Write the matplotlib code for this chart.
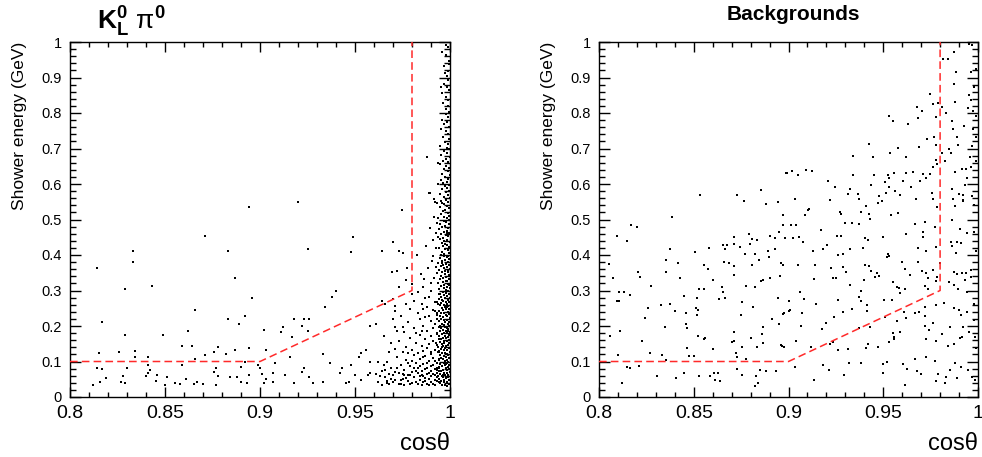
import numpy as np
import matplotlib
matplotlib.use("Agg")
import matplotlib.pyplot as plt
from matplotlib.ticker import MultipleLocator, FuncFormatter

plt.rcParams["font.family"] = "Liberation Sans"
plt.rcParams["mathtext.fontset"] = "custom"
plt.rcParams["mathtext.rm"] = "Liberation Sans"
plt.rcParams["mathtext.it"] = "Liberation Sans"
plt.rcParams["mathtext.bf"] = "Liberation Sans:bold"
plt.rcParams["lines.scale_dashes"] = False

# selection cut drawn on both panels
cut_x = [0.8, 0.9, 0.98, 0.98]
cut_y = [0.1, 0.1, 0.3, 1.0]

x_ticks = [0.8, 0.85, 0.9, 0.95, 1.0]
y_ticks = [0, 0.1, 0.2, 0.3, 0.4, 0.5, 0.6, 0.7, 0.8, 0.9, 1.0]

# ---- K_L pi0 signal: (cos theta, shower energy)
sig_sparse = [
    (0.894, 0.535), (0.871, 0.454), (0.833, 0.411), (0.883, 0.411), (0.833, 0.380),
    (0.814, 0.363), (0.887, 0.335), (0.829, 0.305), (0.843, 0.313), (0.896, 0.280),
    (0.866, 0.246), (0.817, 0.211), (0.883, 0.220), (0.892, 0.228), (0.889, 0.206),
    (0.829, 0.175), (0.849, 0.175), (0.862, 0.186), (0.902, 0.189), (0.859, 0.145),
    (0.864, 0.145), (0.878, 0.141), (0.834, 0.130), (0.815, 0.124), (0.826, 0.127),
    (0.834, 0.114), (0.841, 0.112), (0.876, 0.128), (0.871, 0.118), (0.882, 0.120),
    (0.887, 0.132), (0.894, 0.138), (0.903, 0.131), (0.866, 0.108), (0.814, 0.083),
    (0.817, 0.078), (0.830, 0.082), (0.828, 0.060), (0.829, 0.040), (0.827, 0.043),
    (0.819, 0.053), (0.816, 0.043), (0.812, 0.034), (0.840, 0.060), (0.842, 0.076),
    (0.841, 0.068), (0.841, 0.090), (0.846, 0.063), (0.845, 0.045), (0.851, 0.055),
    (0.850, 0.034), (0.855, 0.039), (0.858, 0.036), (0.859, 0.089), (0.861, 0.050),
    (0.865, 0.038), (0.867, 0.042), (0.870, 0.038), (0.876, 0.070), (0.877, 0.083),
    (0.878, 0.060), (0.877, 0.034), (0.884, 0.057), (0.890, 0.085), (0.890, 0.043),
    (0.888, 0.055), (0.893, 0.040), (0.892, 0.099), (0.899, 0.090), (0.900, 0.081),
    (0.901, 0.065), (0.903, 0.050), (0.902, 0.040), (0.894, 0.062),
    (0.920, 0.548), (0.949, 0.450), (0.925, 0.417), (0.948, 0.409), (0.964, 0.412),
    (0.970, 0.438), (0.973, 0.412), (0.975, 0.405), (0.972, 0.356), (0.977, 0.330),
    (0.973, 0.309), (0.940, 0.300), (0.938, 0.281), (0.934, 0.253), (0.970, 0.276),
    (0.964, 0.271), (0.966, 0.262), (0.971, 0.257), (0.971, 0.243), (0.923, 0.220),
    (0.926, 0.220), (0.918, 0.220), (0.925, 0.187), (0.922, 0.201), (0.912, 0.196),
    (0.911, 0.182), (0.917, 0.168), (0.970, 0.220), (0.971, 0.198), (0.965, 0.173),
    (0.958, 0.201), (0.961, 0.206), (0.933, 0.121), (0.916, 0.114), (0.908, 0.095),
    (0.937, 0.095), (0.948, 0.090), (0.953, 0.123), (0.952, 0.114), (0.956, 0.132),
    (0.958, 0.100), (0.958, 0.067), (0.957, 0.062), (0.962, 0.100), (0.966, 0.076),
    (0.967, 0.039), (0.953, 0.048), (0.945, 0.039), (0.947, 0.043), (0.933, 0.043),
    (0.928, 0.039), (0.926, 0.057), (0.923, 0.081), (0.922, 0.071), (0.918, 0.039),
    (0.913, 0.062), (0.907, 0.067), (0.907, 0.043), (0.942, 0.067), (0.943, 0.081),
    (0.950, 0.062),
]

sig_mid = [
    (0.9693, 0.351), (0.9772, 0.362), (0.9825, 0.400), (0.9895, 0.475), (0.9877, 0.675),
    (0.9749, 0.527), (0.9939, 0.600), (0.9891, 0.576), (0.9918, 0.557), (0.9930, 0.547),
    (0.9916, 0.508), (0.9939, 0.503), (0.9861, 0.331), (0.9884, 0.362), (0.9905, 0.384),
    (0.9872, 0.425), (0.9912, 0.441), (0.9926, 0.462), (0.9857, 0.309), (0.9901, 0.322),
    (0.9845, 0.347), (0.9931, 0.489), (0.9908, 0.397), (0.9802, 0.318), (0.9939, 0.658),
    (0.9895, 0.574), (0.9921, 0.550),
]

sig_cloud = [
    (0.962, 0.041), (0.964, 0.072), (0.966, 0.055), (0.967, 0.098), (0.968, 0.036),
    (0.969, 0.083), (0.970, 0.062), (0.971, 0.047), (0.972, 0.112), (0.973, 0.069),
    (0.973, 0.038), (0.974, 0.091), (0.975, 0.052), (0.976, 0.077), (0.976, 0.034),
    (0.977, 0.105), (0.978, 0.061), (0.978, 0.045), (0.979, 0.088), (0.980, 0.071),
    (0.980, 0.039), (0.981, 0.118), (0.981, 0.056), (0.982, 0.095), (0.982, 0.042),
    (0.983, 0.067), (0.983, 0.081), (0.984, 0.049), (0.984, 0.108), (0.985, 0.035),
    (0.985, 0.074), (0.986, 0.059), (0.986, 0.092), (0.987, 0.044), (0.987, 0.115),
    (0.988, 0.066), (0.988, 0.083), (0.988, 0.037), (0.989, 0.051), (0.989, 0.101),
    (0.990, 0.073), (0.990, 0.058), (0.990, 0.041), (0.991, 0.089), (0.991, 0.064),
    (0.991, 0.111), (0.992, 0.047), (0.992, 0.078), (0.992, 0.034), (0.993, 0.096),
    (0.993, 0.057), (0.993, 0.069), (0.994, 0.043), (0.994, 0.085), (0.994, 0.107),
    (0.963, 0.058), (0.965, 0.089), (0.968, 0.065), (0.970, 0.041), (0.972, 0.081),
    (0.974, 0.047), (0.975, 0.066), (0.977, 0.053), (0.979, 0.037), (0.980, 0.102),
    (0.982, 0.074), (0.983, 0.036), (0.984, 0.087), (0.985, 0.061), (0.986, 0.043),
    (0.987, 0.079), (0.988, 0.097), (0.989, 0.034), (0.989, 0.069), (0.990, 0.121),
    (0.991, 0.038), (0.992, 0.101), (0.993, 0.045), (0.993, 0.082), (0.986, 0.112),
    (0.981, 0.082), (0.978, 0.095), (0.976, 0.061), (0.971, 0.071), (0.967, 0.046),
    (0.964, 0.033), (0.969, 0.052), (0.974, 0.036), (0.979, 0.063), (0.984, 0.058),
    (0.987, 0.054), (0.990, 0.088), (0.992, 0.061), (0.994, 0.072), (0.961, 0.066),
    (0.971, 0.135), (0.973, 0.158), (0.975, 0.127), (0.976, 0.182), (0.977, 0.141),
    (0.978, 0.211), (0.979, 0.166), (0.980, 0.131), (0.981, 0.195), (0.982, 0.152),
    (0.983, 0.238), (0.983, 0.124), (0.984, 0.176), (0.985, 0.143), (0.985, 0.262),
    (0.986, 0.201), (0.986, 0.129), (0.987, 0.163), (0.987, 0.225), (0.988, 0.138),
    (0.988, 0.187), (0.989, 0.281), (0.989, 0.149), (0.990, 0.214), (0.990, 0.171),
    (0.990, 0.126), (0.991, 0.245), (0.991, 0.157), (0.991, 0.193), (0.992, 0.133),
    (0.992, 0.268), (0.992, 0.206), (0.993, 0.179), (0.993, 0.146), (0.993, 0.231),
    (0.994, 0.162), (0.994, 0.291), (0.994, 0.198), (0.994, 0.127), (0.982, 0.179),
    (0.984, 0.221), (0.986, 0.247), (0.988, 0.253), (0.989, 0.229), (0.981, 0.271),
    (0.979, 0.248), (0.975, 0.198), (0.972, 0.186), (0.969, 0.151), (0.968, 0.128),
    (0.974, 0.229), (0.977, 0.263), (0.980, 0.291), (0.983, 0.296), (0.987, 0.278),
    (0.990, 0.298), (0.992, 0.242), (0.993, 0.267), (0.985, 0.186), (0.978, 0.123),
]

sig_edge = [
    (0.9990, 0.985), (0.9980, 0.962), (0.9995, 0.947), (0.9970, 0.931), (0.9990, 0.918),
    (0.9985, 0.905), (0.9960, 0.972), (0.9993, 0.938), (0.9980, 0.991), (0.9975, 0.912),
    (0.9990, 0.893), (0.9970, 0.881), (0.9985, 0.872), (0.9995, 0.866), (0.9960, 0.857),
    (0.9980, 0.846), (0.9990, 0.838), (0.9965, 0.829), (0.9988, 0.821), (0.9978, 0.812),
    (0.9996, 0.804), (0.9950, 0.874), (0.9980, 0.797), (0.9992, 0.788), (0.9960, 0.781),
    (0.9985, 0.776), (0.9970, 0.768), (0.9995, 0.761), (0.9955, 0.754), (0.9980, 0.749),
    (0.9988, 0.741), (0.9962, 0.733), (0.9997, 0.727), (0.9975, 0.719), (0.9990, 0.712),
    (0.9945, 0.707), (0.9982, 0.702), (0.9993, 0.698), (0.9970, 0.693), (0.9985, 0.688),
    (0.9955, 0.681), (0.9998, 0.677), (0.9980, 0.671), (0.9965, 0.666), (0.9990, 0.661),
    (0.9948, 0.655), (0.9978, 0.651), (0.9995, 0.646), (0.9968, 0.641), (0.9987, 0.636),
    (0.9958, 0.629), (0.9999, 0.624), (0.9975, 0.619), (0.9991, 0.614), (0.9952, 0.611),
    (0.9983, 0.606), (0.9963, 0.602), (0.9996, 0.598), (0.9972, 0.594), (0.9986, 0.589),
    (0.9958, 0.585), (0.9993, 0.581), (0.9977, 0.577), (0.9949, 0.572), (0.9989, 0.569),
    (0.9966, 0.564), (0.9998, 0.561), (0.9980, 0.556), (0.9955, 0.552), (0.9991, 0.548),
    (0.9970, 0.544), (0.9984, 0.539), (0.9945, 0.535), (0.9997, 0.532), (0.9975, 0.528),
    (0.9961, 0.523), (0.9988, 0.519), (0.9952, 0.515), (0.9994, 0.511), (0.9969, 0.507),
    (0.9982, 0.503), (0.9957, 0.546), (0.9993, 0.498), (0.9968, 0.495), (0.9981, 0.492),
    (0.9948, 0.488), (0.9997, 0.486), (0.9975, 0.482), (0.9959, 0.479), (0.9989, 0.476),
    (0.9942, 0.473), (0.9984, 0.469), (0.9966, 0.466), (0.9995, 0.463), (0.9954, 0.459),
    (0.9978, 0.456), (0.9991, 0.453), (0.9963, 0.449), (0.9947, 0.446), (0.9986, 0.443),
    (0.9971, 0.439), (0.9998, 0.436), (0.9956, 0.433), (0.9982, 0.429), (0.9964, 0.426),
    (0.9993, 0.423), (0.9944, 0.419), (0.9976, 0.416), (0.9988, 0.413), (0.9958, 0.409),
    (0.9996, 0.406), (0.9969, 0.403), (0.9951, 0.401), (0.9985, 0.461), (0.9973, 0.431),
    (0.9939, 0.452), (0.9928, 0.421), (0.9991, 0.398), (0.9967, 0.396), (0.9982, 0.393),
    (0.9945, 0.391), (0.9996, 0.388), (0.9974, 0.386), (0.9957, 0.383), (0.9988, 0.381),
    (0.9938, 0.378), (0.9979, 0.376), (0.9962, 0.373), (0.9994, 0.371), (0.9951, 0.368),
    (0.9985, 0.366), (0.9969, 0.363), (0.9998, 0.361), (0.9942, 0.358), (0.9976, 0.356),
    (0.9959, 0.353), (0.9989, 0.351), (0.9932, 0.348), (0.9972, 0.346), (0.9993, 0.343),
    (0.9955, 0.341), (0.9981, 0.338), (0.9964, 0.336), (0.9997, 0.333), (0.9947, 0.331),
    (0.9978, 0.328), (0.9986, 0.326), (0.9961, 0.323), (0.9935, 0.321), (0.9992, 0.318),
    (0.9971, 0.316), (0.9953, 0.313), (0.9983, 0.311), (0.9966, 0.308), (0.9999, 0.306),
    (0.9944, 0.303), (0.9977, 0.301), (0.9925, 0.365), (0.9918, 0.334), (0.9987, 0.357),
    (0.9958, 0.377), (0.9995, 0.315), (0.9992, 0.298), (0.9961, 0.296), (0.9978, 0.293),
    (0.9947, 0.291), (0.9995, 0.289), (0.9968, 0.287), (0.9984, 0.284), (0.9953, 0.282),
    (0.9999, 0.280), (0.9973, 0.278), (0.9941, 0.276), (0.9988, 0.273), (0.9962, 0.271),
    (0.9979, 0.269), (0.9996, 0.267), (0.9951, 0.265), (0.9983, 0.262), (0.9967, 0.260),
    (0.9945, 0.258), (0.9991, 0.256), (0.9974, 0.254), (0.9958, 0.251), (0.9997, 0.249),
    (0.9981, 0.247), (0.9963, 0.245), (0.9943, 0.243), (0.9989, 0.240), (0.9971, 0.238),
    (0.9955, 0.236), (0.9994, 0.234), (0.9977, 0.232), (0.9948, 0.229), (0.9986, 0.227),
    (0.9965, 0.225), (0.9998, 0.223), (0.9952, 0.221), (0.9982, 0.218), (0.9969, 0.216),
    (0.9944, 0.214), (0.9993, 0.212), (0.9976, 0.210), (0.9959, 0.207), (0.9987, 0.205),
    (0.9966, 0.203), (0.9949, 0.201), (0.9985, 0.253), (0.9957, 0.274), (0.9939, 0.263),
    (0.9929, 0.238), (0.9933, 0.219), (0.9996, 0.199), (0.9972, 0.197), (0.9985, 0.195),
    (0.9954, 0.193), (0.9991, 0.191), (0.9964, 0.189), (0.9978, 0.187), (0.9946, 0.185),
    (0.9998, 0.183), (0.9969, 0.181), (0.9983, 0.179), (0.9957, 0.177), (0.9993, 0.175),
    (0.9974, 0.173), (0.9942, 0.171), (0.9987, 0.169), (0.9961, 0.167), (0.9979, 0.165),
    (0.9951, 0.163), (0.9995, 0.161), (0.9967, 0.159), (0.9984, 0.157), (0.9945, 0.155),
    (0.9997, 0.153), (0.9971, 0.151), (0.9956, 0.149), (0.9989, 0.147), (0.9963, 0.145),
    (0.9981, 0.143), (0.9938, 0.141), (0.9994, 0.139), (0.9976, 0.137), (0.9952, 0.135),
    (0.9986, 0.133), (0.9966, 0.131), (0.9943, 0.129), (0.9999, 0.127), (0.9973, 0.125),
    (0.9958, 0.123), (0.9982, 0.121), (0.9947, 0.119), (0.9992, 0.117), (0.9968, 0.115),
    (0.9979, 0.113), (0.9953, 0.111), (0.9996, 0.109), (0.9961, 0.107), (0.9985, 0.105),
    (0.9944, 0.103), (0.9975, 0.101), (0.9931, 0.178), (0.9927, 0.152), (0.9935, 0.126),
    (0.9988, 0.186), (0.9959, 0.142), (0.9991, 0.099), (0.9966, 0.097), (0.9982, 0.095),
    (0.9949, 0.093), (0.9997, 0.091), (0.9972, 0.089), (0.9958, 0.087), (0.9987, 0.085),
    (0.9943, 0.083), (0.9978, 0.081), (0.9994, 0.079), (0.9962, 0.077), (0.9983, 0.075),
    (0.9951, 0.073), (0.9998, 0.071), (0.9969, 0.069), (0.9985, 0.067), (0.9946, 0.065),
    (0.9992, 0.063), (0.9974, 0.061), (0.9957, 0.059), (0.9989, 0.057), (0.9964, 0.055),
    (0.9981, 0.053), (0.9941, 0.051), (0.9996, 0.049), (0.9971, 0.047), (0.9954, 0.045),
    (0.9986, 0.043), (0.9967, 0.041), (0.9948, 0.039), (0.9993, 0.037), (0.9976, 0.035),
    (0.9959, 0.033), (0.9984, 0.031), (0.9937, 0.058), (0.9929, 0.076), (0.9933, 0.044),
    (0.9979, 0.092), (0.9961, 0.063),
]

# ---- backgrounds: right panel
bkg_left = [
    (0.8765, 0.552), (0.8882, 0.544), (0.8946, 0.549), (0.8970, 0.514), (0.8970, 0.484),
    (0.8386, 0.506), (0.8167, 0.485), (0.8202, 0.480), (0.8093, 0.454), (0.8149, 0.439),
    (0.8710, 0.450), (0.8791, 0.458), (0.8809, 0.444), (0.8833, 0.442), (0.8902, 0.454),
    (0.8949, 0.465), (0.8928, 0.448), (0.8675, 0.429), (0.8654, 0.427), (0.8710, 0.431),
    (0.8746, 0.423), (0.8798, 0.431), (0.8377, 0.418), (0.8507, 0.408), (0.8579, 0.421),
    (0.8667, 0.417), (0.8768, 0.403), (0.8825, 0.403), (0.8893, 0.412), (0.8928, 0.418),
    (0.8895, 0.394), (0.8842, 0.386), (0.8970, 0.371), (0.8053, 0.376), (0.8351, 0.385),
    (0.8418, 0.377), (0.8660, 0.380), (0.8686, 0.377), (0.8554, 0.373), (0.8574, 0.361),
    (0.8714, 0.370), (0.8807, 0.372), (0.8207, 0.351), (0.8354, 0.352), (0.8218, 0.339),
    (0.8072, 0.335), (0.8430, 0.336), (0.8603, 0.330), (0.8714, 0.343), (0.8868, 0.330),
    (0.8853, 0.327), (0.8903, 0.335), (0.8954, 0.341), (0.8777, 0.314), (0.8821, 0.309),
    (0.8277, 0.313), (0.8530, 0.303), (0.8554, 0.305), (0.8651, 0.309), (0.8654, 0.296),
    (0.8130, 0.295), (0.8107, 0.295), (0.8165, 0.286), (0.8096, 0.270), (0.8107, 0.270),
    (0.8451, 0.284), (0.8517, 0.280), (0.8633, 0.276), (0.8663, 0.280), (0.8946, 0.280),
    (0.8326, 0.259), (0.8375, 0.261), (0.8258, 0.250), (0.8402, 0.243), (0.8514, 0.250),
    (0.8524, 0.245), (0.8756, 0.269), (0.8814, 0.253), (0.9000, 0.243), (0.8970, 0.234),
    (0.8244, 0.223), (0.8460, 0.238), (0.8519, 0.232), (0.8747, 0.230), (0.8914, 0.221),
    (0.8461, 0.207), (0.8465, 0.193), (0.8347, 0.196), (0.8863, 0.198), (0.8949, 0.206),
    (0.8112, 0.185), (0.8226, 0.157), (0.8058, 0.172), (0.8524, 0.172), (0.8554, 0.162),
    (0.8561, 0.167), (0.8714, 0.183), (0.8714, 0.157), (0.8803, 0.166), (0.8858, 0.177),
    (0.8467, 0.139), (0.8600, 0.136), (0.8702, 0.154), (0.8754, 0.142), (0.8835, 0.142),
    (0.8863, 0.153), (0.8960, 0.146), (0.8974, 0.141), (0.8270, 0.123), (0.8098, 0.118),
    (0.8333, 0.117), (0.8353, 0.105), (0.8721, 0.123), (0.8726, 0.112), (0.8774, 0.108),
    (0.8475, 0.115), (0.8503, 0.116), (0.8149, 0.085), (0.8163, 0.081), (0.8212, 0.088),
    (0.8304, 0.059), (0.8446, 0.068), (0.8405, 0.053), (0.8528, 0.059), (0.8584, 0.059),
    (0.8605, 0.067), (0.8626, 0.069), (0.8612, 0.047), (0.8637, 0.045), (0.8728, 0.078),
    (0.8753, 0.061), (0.8830, 0.060), (0.8851, 0.075), (0.8879, 0.074), (0.8932, 0.072),
    (0.8123, 0.039), (0.8837, 0.040), (0.8821, 0.032), (0.8991, 0.630), (0.8535, 0.569),
    (0.8728, 0.569), (0.8856, 0.583),
]

bkg_low = [
    (0.8971, 0.514), (0.9085, 0.514), (0.9104, 0.527), (0.9274, 0.522), (0.9277, 0.515),
    (0.9381, 0.522), (0.9423, 0.515), (0.9472, 0.547), (0.9493, 0.551), (0.9783, 0.536),
    (0.9877, 0.538), (0.9923, 0.552), (0.9977, 0.541), (0.9014, 0.485), (0.9037, 0.485),
    (0.9172, 0.470), (0.9300, 0.489), (0.9335, 0.491), (0.9374, 0.487), (0.9432, 0.502),
    (0.9541, 0.513), (0.9576, 0.517), (0.9667, 0.486), (0.9709, 0.466), (0.9720, 0.493),
    (0.9772, 0.480), (0.9863, 0.500), (0.9904, 0.472), (0.9941, 0.463), (0.9977, 0.466),
    (0.8979, 0.449), (0.9023, 0.449), (0.9058, 0.452), (0.9076, 0.438), (0.9255, 0.454),
    (0.9276, 0.454), (0.9406, 0.447), (0.9418, 0.442), (0.9500, 0.451), (0.9620, 0.459),
    (0.9712, 0.450), (0.9858, 0.438), (0.9888, 0.438), (0.9912, 0.433), (0.9128, 0.412),
    (0.9181, 0.416), (0.9202, 0.428), (0.9262, 0.400), (0.9285, 0.403), (0.9327, 0.416),
    (0.9393, 0.419), (0.9525, 0.402), (0.9686, 0.419), (0.9725, 0.412), (0.9776, 0.423),
    (0.9802, 0.378), (0.9865, 0.426), (0.9883, 0.405), (0.9988, 0.412), (0.8962, 0.377),
    (0.9049, 0.371), (0.9141, 0.372), (0.9225, 0.364), (0.9285, 0.367), (0.9302, 0.353),
    (0.9406, 0.372), (0.9434, 0.356), (0.9423, 0.369), (0.9465, 0.350), (0.9520, 0.393),
    (0.9532, 0.397), (0.9598, 0.380), (0.9613, 0.360), (0.9681, 0.379), (0.9704, 0.356),
    (0.9760, 0.358), (0.9783, 0.338), (0.9872, 0.353), (0.9890, 0.346), (0.9914, 0.348),
    (0.9935, 0.348), (0.9962, 0.358), (0.8957, 0.341), (0.9135, 0.332), (0.9234, 0.336),
    (0.9251, 0.334), (0.9397, 0.330), (0.9456, 0.337), (0.9477, 0.340), (0.9642, 0.343),
    (0.9728, 0.348), (0.9737, 0.334), (0.9779, 0.326), (0.9849, 0.324), (0.9874, 0.315),
    (0.9932, 0.330), (0.9962, 0.339), (0.9062, 0.297), (0.9323, 0.315), (0.9384, 0.300),
    (0.9551, 0.324), (0.9570, 0.309), (0.9584, 0.306), (0.9616, 0.305), (0.9720, 0.313),
    (0.9737, 0.305), (0.9897, 0.305), (0.9941, 0.295), (0.9002, 0.270), (0.9083, 0.277),
    (0.9146, 0.262), (0.9262, 0.273), (0.9374, 0.281), (0.9383, 0.271), (0.9504, 0.273),
    (0.9544, 0.273), (0.9588, 0.294), (0.9720, 0.254), (0.9777, 0.259), (0.9821, 0.264),
    (0.9874, 0.250), (0.9900, 0.245), (0.9979, 0.262), (0.8974, 0.238), (0.9006, 0.245),
    (0.9071, 0.236), (0.9286, 0.240), (0.9335, 0.247), (0.9416, 0.259), (0.9413, 0.243),
    (0.9511, 0.224), (0.9570, 0.215), (0.9609, 0.239), (0.9667, 0.238), (0.9690, 0.240),
    (0.9721, 0.227), (0.9760, 0.208), (0.9909, 0.231), (0.9944, 0.239), (0.9979, 0.216),
    (0.9067, 0.200), (0.9176, 0.191), (0.9199, 0.208), (0.9242, 0.224), (0.9374, 0.194),
    (0.9432, 0.198), (0.9549, 0.179), (0.9558, 0.170), (0.9588, 0.184), (0.9620, 0.222),
    (0.9720, 0.200), (0.9742, 0.189), (0.9812, 0.177), (0.9853, 0.198), (0.9914, 0.170),
    (0.9921, 0.198), (0.9953, 0.182), (0.9984, 0.168), (0.8964, 0.145), (0.9042, 0.159),
    (0.9121, 0.140), (0.9220, 0.149), (0.9237, 0.156), (0.9262, 0.131), (0.9316, 0.134),
    (0.9411, 0.137), (0.9418, 0.149), (0.9472, 0.142), (0.9532, 0.156), (0.9555, 0.162),
    (0.9725, 0.162), (0.9777, 0.159), (0.9844, 0.144), (0.9874, 0.148), (0.9905, 0.165),
    (0.9988, 0.139), (0.9032, 0.084), (0.9181, 0.090), (0.9216, 0.076), (0.9292, 0.062),
    (0.9321, 0.095), (0.9383, 0.095), (0.9500, 0.093), (0.9520, 0.100), (0.9497, 0.069),
    (0.9606, 0.093), (0.9623, 0.079), (0.9667, 0.106), (0.9676, 0.074), (0.9698, 0.065),
    (0.9725, 0.114), (0.9772, 0.102), (0.9791, 0.065), (0.9830, 0.057), (0.9853, 0.076),
    (0.9879, 0.095), (0.9909, 0.085), (0.9946, 0.076), (0.9970, 0.057), (0.9132, 0.047),
    (0.9613, 0.034), (0.9777, 0.046), (0.9826, 0.040), (0.9888, 0.054), (0.9984, 0.048),
]

bkg_top = [
    (0.9953, 0.994), (0.9970, 0.992), (0.9874, 0.973), (0.9842, 0.951), (0.9814, 0.951),
    (0.9883, 0.916), (0.9962, 0.916), (0.9988, 0.924), (0.9874, 0.882), (0.9979, 0.874),
    (0.9748, 0.853), (0.9955, 0.850), (0.9963, 0.838), (0.9791, 0.829), (0.9760, 0.825),
    (0.9876, 0.830), (0.9677, 0.818), (0.9704, 0.806), (0.9809, 0.816), (0.9946, 0.813),
    (0.9976, 0.807), (0.9530, 0.792), (0.9549, 0.777), (0.9628, 0.768), (0.9683, 0.786),
    (0.9781, 0.790), (0.9830, 0.799), (0.9862, 0.777), (0.9988, 0.791), (0.9926, 0.762),
    (0.9869, 0.754), (0.9976, 0.754), (0.9730, 0.727), (0.9770, 0.731), (0.9777, 0.710),
    (0.9888, 0.732), (0.9897, 0.710), (0.9988, 0.733), (0.9427, 0.712), (0.9579, 0.701),
    (0.9690, 0.703), (0.9848, 0.700), (0.9856, 0.688), (0.9970, 0.707), (0.9342, 0.679),
    (0.9444, 0.675), (0.9537, 0.686), (0.9620, 0.676), (0.9809, 0.688), (0.9827, 0.666),
    (0.9777, 0.668), (0.9958, 0.676), (0.9988, 0.666), (0.8988, 0.631), (0.9020, 0.637),
    (0.9049, 0.624), (0.9093, 0.639), (0.9123, 0.638), (0.9341, 0.626), (0.9449, 0.626),
    (0.9523, 0.626), (0.9555, 0.630), (0.9620, 0.630), (0.9655, 0.634), (0.9711, 0.628),
    (0.9746, 0.628), (0.9763, 0.649), (0.9786, 0.656), (0.9877, 0.633), (0.9918, 0.642),
    (0.9935, 0.642), (0.9962, 0.649), (0.9207, 0.608), (0.9435, 0.598), (0.9509, 0.605),
    (0.9530, 0.616), (0.9602, 0.608), (0.9646, 0.592), (0.9695, 0.609), (0.9728, 0.616),
    (0.9944, 0.616), (0.9932, 0.597), (0.9246, 0.592), (0.9327, 0.586), (0.9514, 0.576),
    (0.9532, 0.592), (0.9563, 0.579), (0.9755, 0.576), (0.9865, 0.585), (0.9900, 0.571),
    (0.9923, 0.569), (0.9967, 0.566), (0.9032, 0.558), (0.9221, 0.555), (0.9316, 0.571),
    (0.9369, 0.572), (0.9374, 0.558), (0.9476, 0.567), (0.9590, 0.569), (0.9672, 0.558),
    (0.9760, 0.558), (0.9869, 0.558), (0.9923, 0.555), (0.9409, 0.539), (0.9107, 0.530),
]


def style_axes(ax):
    ax.set_xlim(0.8, 1.0)
    ax.set_ylim(0.0, 1.0)
    ax.set_xticks(x_ticks)
    ax.set_yticks(y_ticks)
    ax.xaxis.set_minor_locator(MultipleLocator(0.01))
    ax.yaxis.set_minor_locator(MultipleLocator(0.02))
    fmt = FuncFormatter(lambda v, _: "%g" % round(v, 3))
    ax.xaxis.set_major_formatter(fmt)
    ax.yaxis.set_major_formatter(fmt)
    ax.tick_params(which="both", direction="in", top=True, right=True, width=1.0, color="black")
    ax.tick_params(axis="x", which="major", length=7.2, labelsize=14, pad=6)
    ax.tick_params(axis="x", which="minor", length=3.6)
    ax.tick_params(axis="y", which="major", length=8, labelsize=10.5, pad=6)
    ax.tick_params(axis="y", which="minor", length=4)
    for sp in ax.spines.values():
        sp.set_linewidth(1.0)
    ax.set_ylabel("Shower energy (GeV)", fontsize=12.5, loc="top")
    ax.yaxis.set_label_coords(-0.113, 1.0)
    ax.text(1.0, -0.150, "cosθ", transform=ax.transAxes, ha="right", va="baseline", fontsize=17)
    ax.plot(cut_x, cut_y, color="#ff2a2a", lw=1.1, dashes=(5.5, 3), zorder=3)


fig = plt.figure(figsize=(9.82, 4.57), dpi=100)
ax1 = fig.add_axes([70 / 982, 60 / 457, 380 / 982, 355 / 457])
ax2 = fig.add_axes([599 / 982, 60 / 457, 379 / 982, 355 / 457])

for ax, groups in [(ax1, [sig_sparse, sig_mid, sig_cloud, sig_edge]),
                   (ax2, [bkg_left, bkg_low, bkg_top])]:
    pts = np.array([p for g in groups for p in g])
    ax.scatter(pts[:, 0], pts[:, 1], s=0.6, marker="s", lw=0, color="black", zorder=2)
    style_axes(ax)

fig.text(131 / 982, 1 - 22 / 457, r"$\mathbf{K_L^0}\ \mathrm{\pi}^{\mathbf{0}}$",
         ha="center", va="center", fontsize=19)
fig.text(793 / 982, 1 - 15 / 457, "Backgrounds", ha="center", va="center",
         fontsize=15, fontweight="bold")

fig.savefig("out.png", dpi=100)
